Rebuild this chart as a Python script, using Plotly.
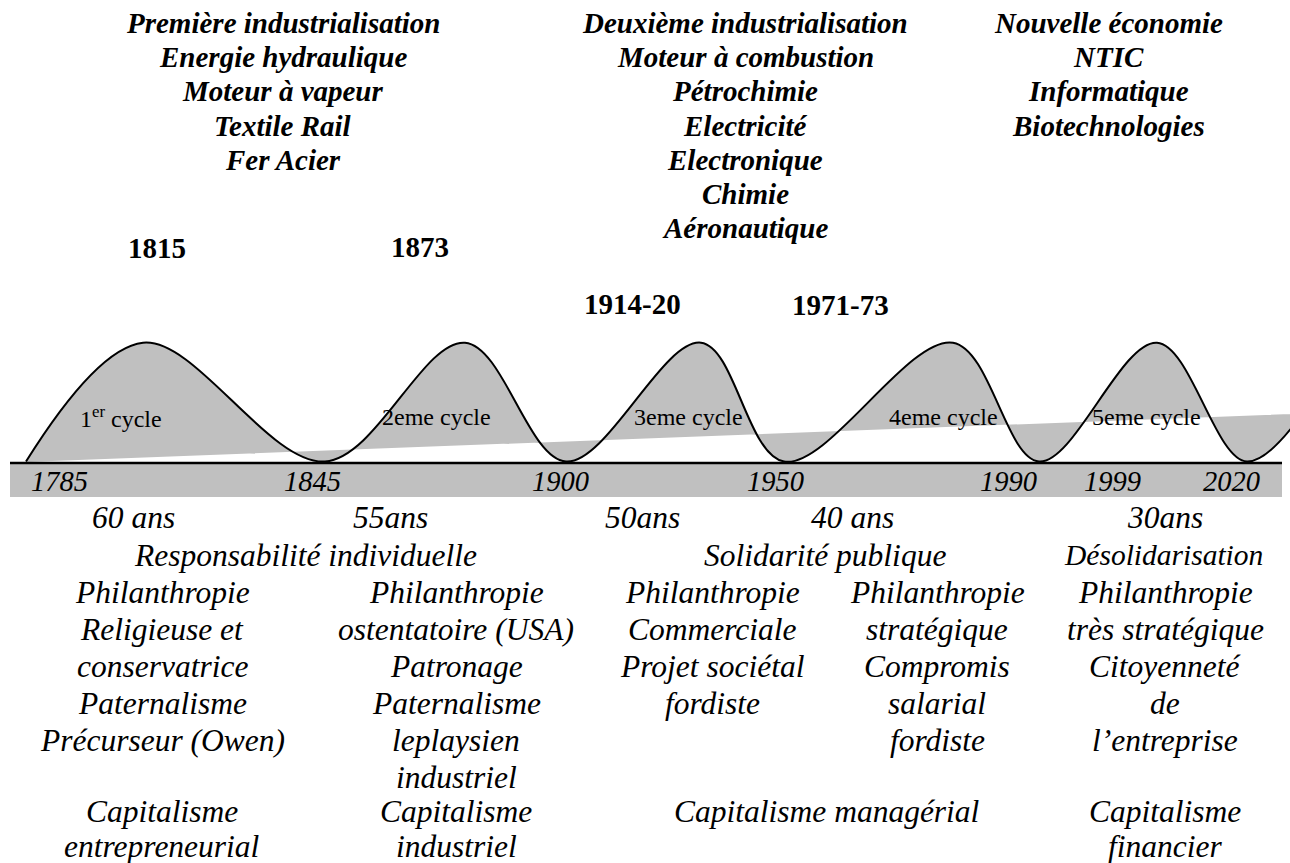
import plotly.graph_objects as go

W, H = 1290, 863
SERIF = "Liberation Serif, Times New Roman, serif"
GRAY = "#c0c0c0"

# ---- data (diagram coordinates: x along the timeline, y downward) ----
wave_x = [26, 143, 325, 465, 566, 701, 784, 953, 1039, 1157, 1247, 1347]
wave_y = [461.5, 342.7, 461.5, 342.7, 461.5, 342.7, 461.5, 342.7, 461.5, 342.7, 461.5, 342.7]
trend_x = [26, 1347]
trend_y = [462, 411.8]

axis_years = ["1785", "1845", "1900", "1950", "1990", "1999", "2020"]
axis_year_x = [59, 312, 560, 775, 1008, 1112, 1231]

cycle_labels = ["1<sup>er</sup> cycle", "2eme cycle", "3eme cycle", "4eme cycle", "5eme cycle"]
cycle_x = [121, 436, 688, 943, 1146]

crisis_years = ["1815", "1873", "1914-20", "1971-73"]
crisis_x = [157, 420, 632, 840]
crisis_y = [248, 247, 304, 305]

top_blocks = [
    ["Première industrialisation", "Energie hydraulique", "Moteur à vapeur", "Textile Rail", "Fer Acier"],
    ["Deuxième industrialisation", "Moteur à combustion", "Pétrochimie", "Electricité",
     "Electronique", "Chimie", "Aéronautique"],
    ["Nouvelle économie", "NTIC", "Informatique", "Biotechnologies"],
]
top_block_x = [283, 745, 1108]

durations = ["60 ans", "55ans", "50ans", "40 ans", "30ans"]
duration_x = [133, 390, 642, 852, 1165]

solidarity = ["Responsabilité individuelle", "Solidarité publique", "Désolidarisation"]
solidarity_x = [305, 825, 1163]

philanthropy_cols = [
    ["Philanthropie", "Religieuse et", "conservatrice", "Paternalisme", "Précurseur (Owen)"],
    ["Philanthropie", "ostentatoire (USA)", "Patronage", "Paternalisme", "leplaysien", "industriel"],
    ["Philanthropie", "Commerciale", "Projet sociétal", "fordiste"],
    ["Philanthropie", "stratégique", "Compromis", "salarial", "fordiste"],
    ["Philanthropie", "très stratégique", "Citoyenneté", "de", "l’entreprise"],
]
philanthropy_x = [162, 456, 712, 937, 1165]

capitalism = [["Capitalisme", "entrepreneurial"], ["Capitalisme", "industriel"],
              ["Capitalisme managérial"], ["Capitalisme", "financier"]]
capitalism_x = [162, 456, 827, 1165]

fig = go.Figure()

# band under the axis and baseline
fig.add_shape(type="rect", x0=10, x1=1282, y0=464, y1=497, xref="x", yref="y",
              fillcolor=GRAY, line=dict(width=0), layer="below")

# trend line (invisible) + wave filled to it
fig.add_trace(go.Scatter(x=trend_x, y=trend_y, mode="lines",
                         line=dict(width=0, color=GRAY), hoverinfo="skip", showlegend=False))
fig.add_trace(go.Scatter(x=wave_x, y=wave_y, mode="lines", fill="tonexty", fillcolor=GRAY,
                         line=dict(color="black", width=2, shape="spline", smoothing=1),
                         hoverinfo="skip", showlegend=False))

fig.add_shape(type="line", x0=10, x1=1282, y0=463, y1=463, xref="x", yref="y",
              line=dict(color="black", width=2.5))

ann = []


def add(text, x, y, size, bold=False, italic=False):
    t = text
    if bold:
        t = "<b>" + t + "</b>"
    if italic:
        t = "<i>" + t + "</i>"
    ann.append(dict(text=t, x=x, y=y, xref="x", yref="y", showarrow=False,
                    xanchor="center", yanchor="middle",
                    font=dict(family=SERIF, size=size, color="black")))


for lines, cx in zip(top_blocks, top_block_x):
    for i, s in enumerate(lines):
        add(s, cx, 23 + i * 34.2, 29, bold=True, italic=True)

for s, cx, cy in zip(crisis_years, crisis_x, crisis_y):
    add(s, cx, cy, 29, bold=True)

for s, cx in zip(cycle_labels, cycle_x):
    add(s, cx, 417, 24)

for s, cx in zip(axis_years, axis_year_x):
    add(s, cx, 481, 28.5, italic=True)

for s, cx in zip(durations, duration_x):
    add(s, cx, 517, 31.5, italic=True)

for s, cx in zip(solidarity, solidarity_x):
    add(s, cx, 555, 29.5 if s == "Désolidarisation" else 31.5, italic=True)

for lines, cx in zip(philanthropy_cols, philanthropy_x):
    for i, s in enumerate(lines):
        add(s, cx, 592 + i * 37, 31.5, italic=True)

for lines, cx in zip(capitalism, capitalism_x):
    for i, s in enumerate(lines):
        add(s, cx, 811 + i * 35, 31.5, italic=True)

fig.update_layout(
    width=W, height=H, margin=dict(l=0, r=0, t=0, b=0),
    paper_bgcolor="white", plot_bgcolor="white",
    xaxis=dict(range=[0, W], visible=False, fixedrange=True),
    yaxis=dict(range=[H, 0], visible=False, fixedrange=True),
    annotations=ann, showlegend=False,
)

fig.write_html(
    "out.html",
    config={"displayModeBar": False},
    post_script="document.body.style.margin='0';document.body.style.overflow='hidden';",
)
